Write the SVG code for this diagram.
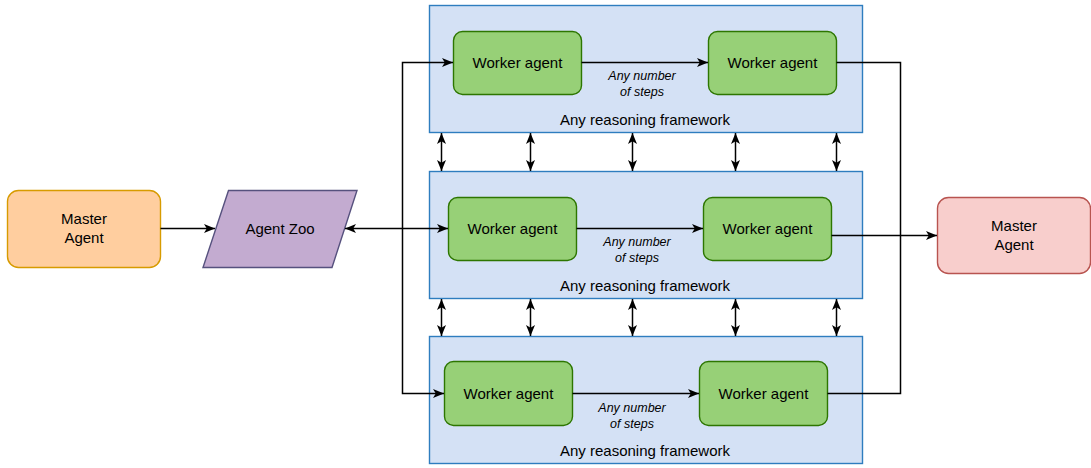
<svg xmlns="http://www.w3.org/2000/svg" width="1091" height="468" viewBox="0 0 1091 468">
  <defs>
    <marker id="arrow" viewBox="0 0 11 9" refX="11" refY="4.5" markerWidth="11" markerHeight="9" markerUnits="userSpaceOnUse" orient="auto-start-reverse">
      <path d="M0,0 L11,4.5 L0,9 L2.8,4.5 Z" fill="#000"/>
    </marker>
    <style>
      text { font-family: "Liberation Sans", Arial, sans-serif; fill: #000; }
      .lbl { font-size: 15px; text-anchor: middle; }
      .note { font-size: 12.5px; font-style: italic; text-anchor: middle; }
      .frame { fill: #D4E1F5; stroke: #2E7DBF; stroke-width: 1.4; }
      .worker { fill: #97D077; stroke: #2D7600; stroke-width: 1.4; }
      .line { fill: none; stroke: #000; stroke-width: 1.5; }
    </style>
  </defs>
  <rect width="1091" height="468" fill="#fff"/>

  <!-- reasoning frameworks -->
  <g id="framework-top">
    <rect class="frame" x="429.5" y="5.5" width="433" height="127"/>
    <text class="lbl" x="645" y="125">Any reasoning framework</text>
  </g>
  <g id="framework-middle">
    <rect class="frame" x="429.5" y="171.5" width="433" height="127"/>
    <text class="lbl" x="645" y="291">Any reasoning framework</text>
  </g>
  <g id="framework-bottom">
    <rect class="frame" x="429.5" y="336.5" width="433" height="127"/>
    <text class="lbl" x="645" y="456">Any reasoning framework</text>
  </g>

  <!-- worker agents -->
  <g id="worker-top-1">
    <rect class="worker" x="453.5" y="31.5" width="128" height="63" rx="9"/>
    <text class="lbl" x="517.5" y="67.5">Worker agent</text>
  </g>
  <g id="worker-top-2">
    <rect class="worker" x="708.5" y="31.5" width="128" height="63" rx="9"/>
    <text class="lbl" x="772.5" y="67.5">Worker agent</text>
  </g>
  <g id="worker-middle-1">
    <rect class="worker" x="448.5" y="197.5" width="128" height="63" rx="9"/>
    <text class="lbl" x="512.5" y="233.5">Worker agent</text>
  </g>
  <g id="worker-middle-2">
    <rect class="worker" x="703.5" y="197.5" width="128" height="63" rx="9"/>
    <text class="lbl" x="767.5" y="233.5">Worker agent</text>
  </g>
  <g id="worker-bottom-1">
    <rect class="worker" x="444.5" y="361.5" width="128" height="64" rx="9"/>
    <text class="lbl" x="508.5" y="398.5">Worker agent</text>
  </g>
  <g id="worker-bottom-2">
    <rect class="worker" x="699.5" y="361.5" width="128" height="64" rx="9"/>
    <text class="lbl" x="763.5" y="398.5">Worker agent</text>
  </g>

  <!-- master agents and agent zoo -->
  <g id="master-agent-left">
    <rect x="7.5" y="190.5" width="153" height="77" rx="11" fill="#FFCE9F" stroke="#D79B00" stroke-width="1.4"/>
    <text class="lbl" x="84" y="224">Master</text>
    <text class="lbl" x="84" y="243">Agent</text>
  </g>
  <g id="agent-zoo">
    <polygon points="228.5,190.5 357,190.5 332,267.5 203,267.5" fill="#C3ABD0" stroke="#56517E" stroke-width="1.4"/>
    <text class="lbl" x="280" y="234">Agent Zoo</text>
  </g>
  <g id="master-agent-right">
    <rect x="937.5" y="197.5" width="153" height="76" rx="11" fill="#F8CECC" stroke="#B85450" stroke-width="1.4"/>
    <text class="lbl" x="1014" y="231">Master</text>
    <text class="lbl" x="1014" y="250">Agent</text>
  </g>

  <!-- connectors -->
  <g id="connectors">
    <line class="line" x1="160.5" y1="228.5" x2="215" y2="228.5" marker-end="url(#arrow)"/>
    <line class="line" x1="345" y1="228.5" x2="448" y2="228.5" marker-start="url(#arrow)" marker-end="url(#arrow)"/>
    <path class="line" d="M402.5,228.5 V62.5 H453" marker-end="url(#arrow)"/>
    <path class="line" d="M402.5,228.5 V393.5 H444" marker-end="url(#arrow)"/>

    <line class="line" x1="581.5" y1="62.5" x2="708" y2="62.5" marker-end="url(#arrow)"/>
    <line class="line" x1="576.5" y1="228.5" x2="703" y2="228.5" marker-end="url(#arrow)"/>
    <line class="line" x1="572.5" y1="393.5" x2="699" y2="393.5" marker-end="url(#arrow)"/>

    <path class="line" d="M836.5,62.5 H900.5 V393.5 H827.5"/>
    <line class="line" x1="831.5" y1="235.5" x2="937" y2="235.5" marker-end="url(#arrow)"/>

    <line class="line" x1="441.5" y1="133" x2="441.5" y2="171" marker-start="url(#arrow)" marker-end="url(#arrow)"/>
    <line class="line" x1="530.5" y1="133" x2="530.5" y2="171" marker-start="url(#arrow)" marker-end="url(#arrow)"/>
    <line class="line" x1="632.5" y1="133" x2="632.5" y2="171" marker-start="url(#arrow)" marker-end="url(#arrow)"/>
    <line class="line" x1="735.5" y1="133" x2="735.5" y2="171" marker-start="url(#arrow)" marker-end="url(#arrow)"/>
    <line class="line" x1="836.5" y1="133" x2="836.5" y2="171" marker-start="url(#arrow)" marker-end="url(#arrow)"/>

    <line class="line" x1="441.5" y1="299" x2="441.5" y2="336" marker-start="url(#arrow)" marker-end="url(#arrow)"/>
    <line class="line" x1="530.5" y1="299" x2="530.5" y2="336" marker-start="url(#arrow)" marker-end="url(#arrow)"/>
    <line class="line" x1="632.5" y1="299" x2="632.5" y2="336" marker-start="url(#arrow)" marker-end="url(#arrow)"/>
    <line class="line" x1="735.5" y1="299" x2="735.5" y2="336" marker-start="url(#arrow)" marker-end="url(#arrow)"/>
    <line class="line" x1="836.5" y1="299" x2="836.5" y2="336" marker-start="url(#arrow)" marker-end="url(#arrow)"/>
  </g>

  <!-- step labels -->
  <g id="step-labels">
    <text class="note" x="642" y="80">Any number</text>
    <text class="note" x="642" y="96">of steps</text>
    <text class="note" x="637" y="246">Any number</text>
    <text class="note" x="637" y="262">of steps</text>
    <text class="note" x="632" y="412">Any number</text>
    <text class="note" x="632" y="428">of steps</text>
  </g>
</svg>
